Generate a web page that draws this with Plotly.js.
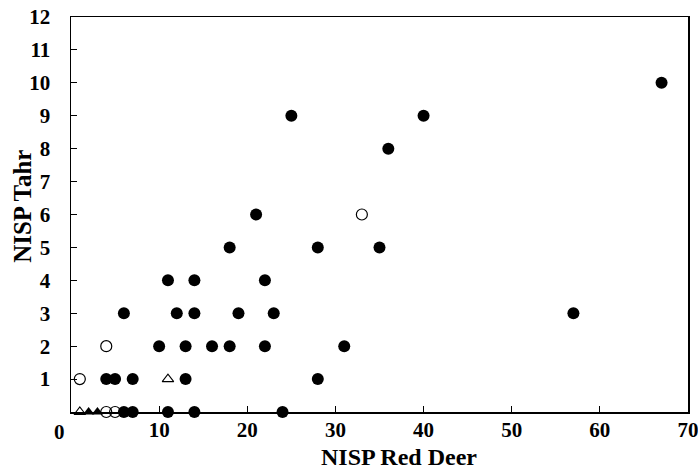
<!DOCTYPE html>
<html>
<head>
<meta charset="utf-8">
<script src="https://cdn.plot.ly/plotly-3.0.1.min.js"></script>
<style>html,body{margin:0;padding:0;background:#fff;}#chart{width:698px;height:470px;}</style>
</head>
<body>
<div id="chart"></div>
<script>
// Filled circles
const filledX = [67,57,40,36,35,31,28,28,25,24,23,22,22,21,19,18,18,16,14,14,14,13,13,12,11,11,10,6,7,4,5,6,7];
const filledY = [10,3,9,8,5,2,5,1,9,0,3,4,2,6,3,5,2,2,4,3,0,2,1,3,4,0,2,3,1,1,1,0,0];
// Open circles
const openCircX = [1,4,33,4,5];
const openCircY = [1,2,6,0,0];
// Filled triangles
const filledTriX = [2,3];
const filledTriY = [0,0];
// Open triangles
const openTriX = [1,11];
const openTriY = [0,1];

const xTicks = [10,20,30,40,50,60,70];
const yTicks = [1,2,3,4,5,6,7,8,9,10,11,12];

const FONT = "Liberation Serif";
const traces = [
  {x: filledX, y: filledY, mode: 'markers', type: 'scatter', cliponaxis: false,
   marker: {symbol: 'circle', size: 12, color: '#000', line: {width: 0}}},
  {x: openCircX, y: openCircY, mode: 'markers', type: 'scatter', cliponaxis: false,
   marker: {symbol: 'circle-open', size: 11, color: '#000', line: {width: 1.2}}},
  {x: filledTriX, y: filledTriY, mode: 'markers', type: 'scatter', cliponaxis: false,
   marker: {symbol: 'triangle-up', size: 10, color: '#000', line: {width: 0}}},
  {x: openTriX, y: openTriY, mode: 'markers', type: 'scatter', cliponaxis: false,
   marker: {symbol: 'triangle-up-open', size: 10, color: '#000', line: {width: 1.1}}}
];

const tf = {family: FONT, size: 21, color: '#000', weight: 'bold'};
const layout = {
  width: 698, height: 470,
  margin: {l: 71, r: 10, t: 17, b: 58, pad: 0},
  paper_bgcolor: '#fff', plot_bgcolor: '#fff',
  showlegend: false,
  font: {family: FONT, color: '#000', size: 21, weight: 'bold'},
  xaxis: {range: [0, 70], tickvals: xTicks, ticktext: xTicks.map(String),
    showline: true, mirror: true, linecolor: '#000', linewidth: 1.5,
    ticks: 'inside', ticklen: 6, tickwidth: 1, tickcolor: '#000',
    ticklabeloverflow: 'allow', ticklabelstandoff: -2,
    showgrid: false, zeroline: false, fixedrange: true, tickfont: tf},
  yaxis: {range: [0, 12], tickvals: yTicks, ticktext: yTicks.map(String),
    showline: true, mirror: true, linecolor: '#000', linewidth: 1.5,
    ticks: 'inside', ticklen: 6, tickwidth: 1, tickcolor: '#000',
    ticklabelstandoff: 15, ticklabeloverflow: 'allow',
    showgrid: false, zeroline: false, fixedrange: true, tickfont: tf},
  annotations: [
    {text: '0', xref: 'paper', yref: 'paper', x: -0.018, y: -0.05, xanchor: 'center', yanchor: 'middle',
     showarrow: false, font: tf},
    {text: 'NISP Red Deer', xref: 'paper', yref: 'paper', x: 0.532, y: -0.114, xanchor: 'center', yanchor: 'middle',
     borderpad: 0, showarrow: false, font: {family: FONT, size: 24, color: '#000', weight: 'bold'}},
    {text: 'NISP Tahr', xref: 'paper', yref: 'paper', x: -0.079, y: 0.52, xanchor: 'center', yanchor: 'middle',
     textangle: -90, showarrow: false, font: {family: FONT, size: 25, color: '#000', weight: 'bold'}}
  ]
};

Plotly.newPlot('chart', traces, layout, {displayModeBar: false, staticPlot: true});
</script>
</body>
</html>
